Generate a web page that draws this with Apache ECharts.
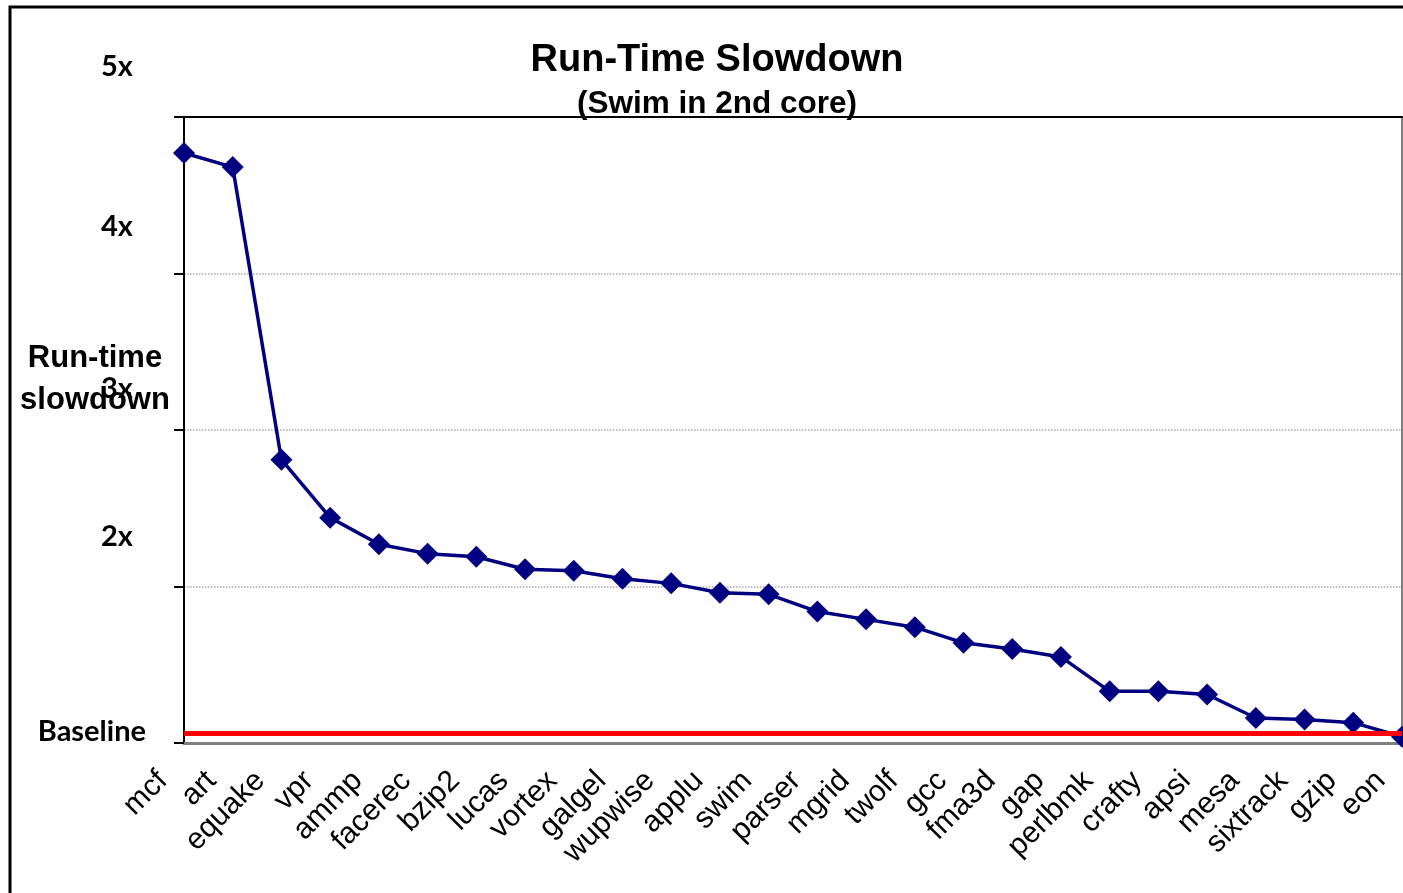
<!DOCTYPE html>
<html>
<head>
<meta charset="utf-8">
<script src="https://cdn.jsdelivr.net/npm/echarts@6/dist/echarts.min.js"></script>
<style>
  html, body { margin: 0; padding: 0; background: #fff; overflow: hidden; }
  #chart { width: 1403px; height: 893px; }
</style>
</head>
<body>
<div id="chart"></div>
<script>
// benchmarks, in the order they are plotted
var benchmarks = ['mcf', 'art', 'equake', 'vpr', 'ammp', 'facerec', 'bzip2', 'lucas', 'vortex', 'galgel',
  'wupwise', 'applu', 'swim', 'parser', 'mgrid', 'twolf', 'gcc', 'fma3d', 'gap', 'perlbmk',
  'crafty', 'apsi', 'mesa', 'sixtrack', 'gzip', 'eon'];
// slowdown relative to running alone (1 = baseline)
var slowdown = [4.77, 4.68, 2.81, 2.44, 2.27, 2.21, 2.19, 2.11, 2.10, 2.05,
  2.02, 1.96, 1.95, 1.84, 1.79, 1.74, 1.64, 1.60, 1.55, 1.33,
  1.33, 1.31, 1.16, 1.15, 1.13, 1.04];
var baseline = 1.064;
var yTicks = [1, 2, 3, 4, 5];

var myChart = echarts.init(document.getElementById('chart'));

var tickFont = { fontFamily: 'Lato', fontWeight: 'bold', fontSize: 29, color: '#000' };

var option = {
  backgroundColor: '#fff',
  animation: false,
  graphic: [{
    type: 'rect',
    shape: { x: 10, y: 7, width: 1500, height: 1000 },
    style: { fill: 'none', stroke: '#000', lineWidth: 3 },
    silent: true
  }],
  title: [{
    text: 'Run-Time Slowdown',
    subtext: '(Swim in 2nd core)',
    left: 712,
    top: 37,
    textAlign: 'center',
    itemGap: 8,
    textStyle: { fontFamily: 'Liberation Sans', fontSize: 38, fontWeight: 'bold', color: '#000' },
    subtextStyle: { fontFamily: 'Liberation Sans', fontSize: 31.5, fontWeight: 'bold', color: '#000' }
  }, {
    text: 'Run-time\nslowdown',
    left: 90,
    top: 332,
    textAlign: 'center',
    textStyle: { fontFamily: 'Liberation Sans', fontSize: 31, fontWeight: 'bold', color: '#000', lineHeight: 42 }
  }],
  grid: { left: 184, right: 1, top: 117, bottom: 150, outerBoundsMode: 'none' },
  xAxis: [{
    type: 'category',
    data: benchmarks,
    boundaryGap: false,
    axisLine: { lineStyle: { color: '#808080', width: 3 } },
    axisTick: { show: false },
    axisLabel: {
      rotate: 45,
      margin: 12,
      padding: [0, 30, 0, 0],
      interval: 0,
      fontFamily: 'Liberation Sans',
      fontSize: 30,
      color: '#000'
    },
    splitLine: { show: false }
  }, {
    type: 'category',
    position: 'top',
    data: benchmarks,
    boundaryGap: false,
    axisLine: { lineStyle: { color: '#000', width: 2 } },
    axisTick: { show: false },
    axisLabel: { show: false }
  }],
  yAxis: [{
    type: 'value',
    min: yTicks[0],
    max: yTicks[yTicks.length - 1],
    interval: 1,
    axisLine: { show: true, lineStyle: { color: '#000', width: 2 } },
    axisTick: { show: true, length: 10, lineStyle: { color: '#000', width: 2 } },
    axisLabel: {
      margin: 38,
      formatter: function(v) {
        if(v == 1) return '{b|Baseline}';
        return '{n' + v + '|' + v + 'x}';
      },
      rich: {
        b: Object.assign({ padding: [0, 0, 22, 0] }, tickFont),
        n2: Object.assign({ padding: [0, 13, 100, 0] }, tickFont),
        n3: Object.assign({ padding: [0, 13, 82, 0] }, tickFont),
        n4: Object.assign({ padding: [0, 13, 94, 0] }, tickFont),
        n5: Object.assign({ padding: [0, 13, 100, 0] }, tickFont)
      }
    },
    splitLine: { show: true, lineStyle: { color: '#a8a8a8', type: 'dotted', width: 1.5 } }
  }, {
    type: 'value',
    position: 'right',
    min: yTicks[0],
    max: yTicks[yTicks.length - 1],
    interval: 1,
    axisLine: { show: true, lineStyle: { color: '#808080', width: 2 } },
    axisTick: { show: false },
    axisLabel: { show: false },
    splitLine: { show: false }
  }],
  series: [{
    type: 'line',
    data: slowdown,
    symbol: 'diamond',
    symbolSize: 22,
    clip: false,
    lineStyle: { color: '#000080', width: 3.5 },
    itemStyle: { color: '#000080' },
    markLine: {
      silent: true,
      symbol: 'none',
      label: { show: false },
      lineStyle: { color: '#ff0000', width: 5, type: 'solid' },
      data: [{ yAxis: baseline }]
    },
    z: 3
  }]
};
myChart.setOption(option);
</script>
</body>
</html>
